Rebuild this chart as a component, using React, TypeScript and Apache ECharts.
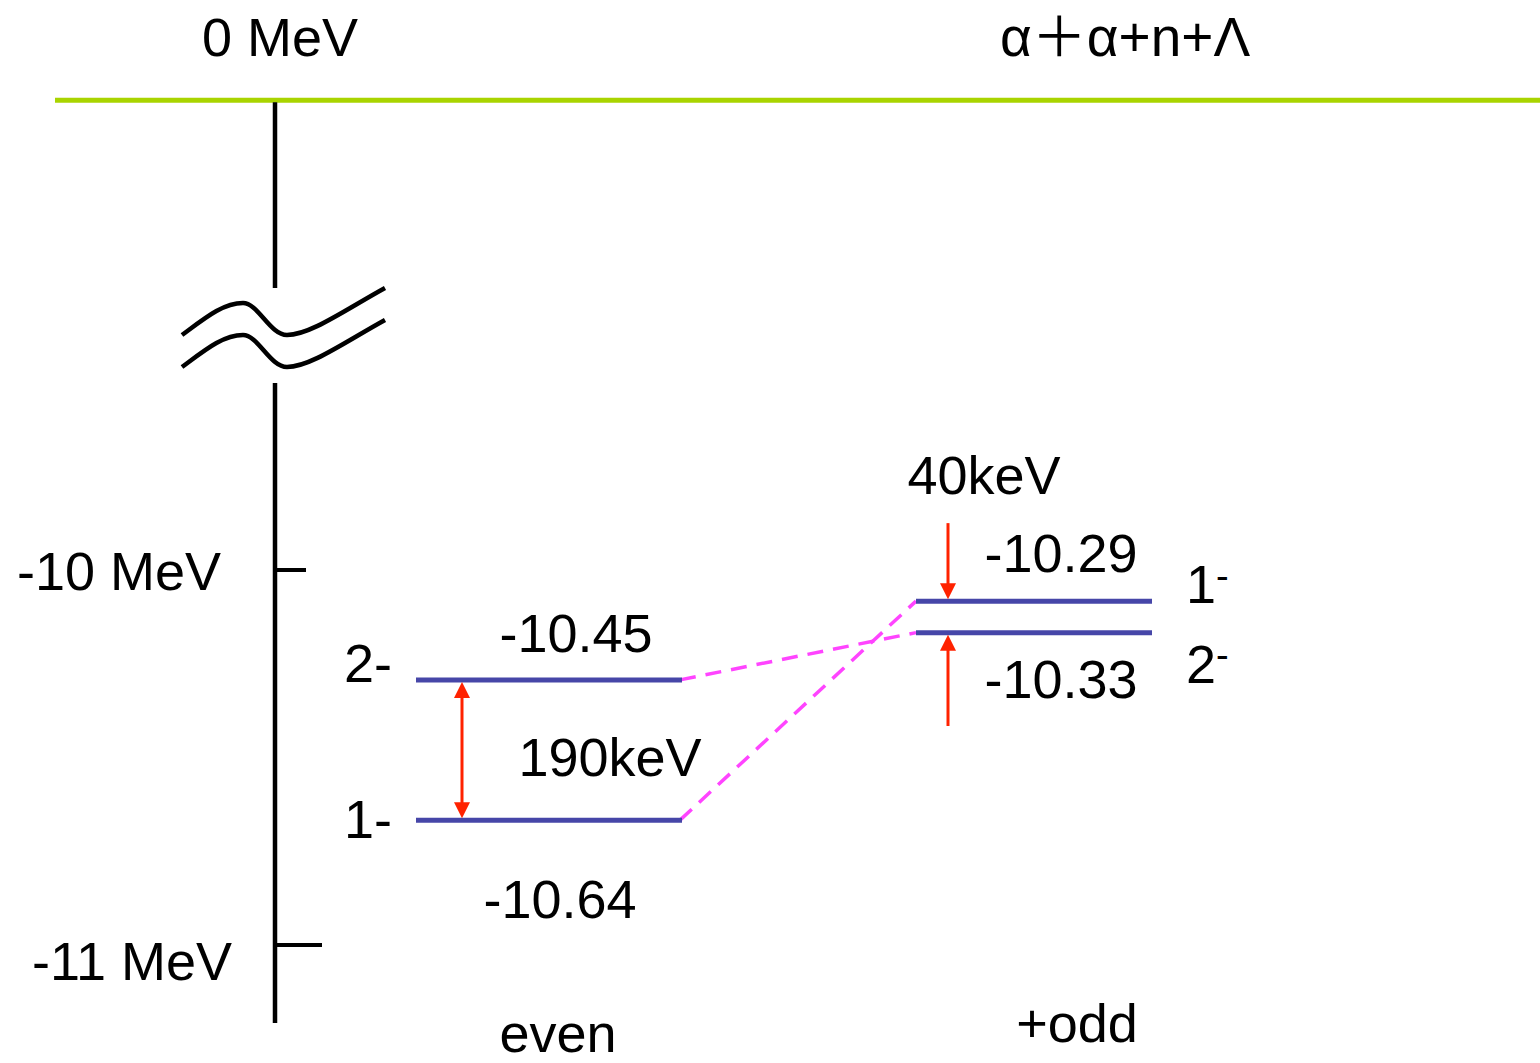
import React, { useEffect, useRef } from "react";
import * as echarts from "echarts";

// ---------------- data ----------------
const thresholdLabel = "0 MeV";
const channelLabel = "α＋α+n+Λ";
const axisTickValues = [-10, -11];
const axisTickLabels = ["-10 MeV", "-11 MeV"];
const evenSpins = ["2-", "1-"];
const evenEnergies = [-10.45, -10.64];
const evenDrawnY = [-10.293, -10.667]; // schematic drawn positions on the axis
const oddSpins = ["1", "2"];
const oddParity = ["-", "-"];
const oddEnergies = [-10.29, -10.33];
const oddDrawnY = [-10.083, -10.167];
const splittingKeV = [190, 40];
const columnLabels = ["even", "+odd"];
const evenToOdd = [1, 0]; // 2- -> 2-, 1- -> 1-
const thresholdDrawnY = -8.747;
const breakDrawnY = -9.416;
const axisEndDrawnY = -11.208;
const oddArrowTailY = [-9.875, -10.416];

// ---------------- layout / style ----------------
const W = 1540;
const H = 1063;
const PX_PER_UNIT = 375;
const Y_MAX = -8.48;
const Y_MIN = Y_MAX - H / PX_PER_UNIT;
const FONT = '"Liberation Sans", Arial, Helvetica, "Noto Sans CJK JP", sans-serif';
const FS = 54;
const AXIS_X = 275;
const LINE_X0 = 55;
const EVEN_X = [416, 682];
const ODD_X = [916, 1152];
const EVEN_ARROW_X = 462;
const ODD_ARROW_X = 948;
const TICK_LEN = [31, 47];
const GREEN = "#A9D400";
const BLUE = "#4646A8";
const MAGENTA = "#FF44FF";
const RED = "#FF2200";
const BLACK = "#000000";

type T = { x: number; y: number; dx: number; dy: number; text: string; align: string; size?: number };

const texts: T[] = [
  { x: AXIS_X, y: thresholdDrawnY, dx: 5, dy: -63, text: thresholdLabel, align: "center" },
  { x: 1000, y: thresholdDrawnY, dx: 0, dy: -63, text: channelLabel, align: "left", size: 55 },
  ...axisTickValues.map((v, i) => ({
    x: AXIS_X, y: v, dx: [-54, -43][i], dy: [1, 16][i], text: axisTickLabels[i], align: "right",
  })),
  ...evenSpins.map((s, i) => ({
    x: EVEN_X[0], y: evenDrawnY[i], dx: -24, dy: [-17, -1][i], text: s, align: "right",
  })),
  ...evenEnergies.map((e, i) => ({
    x: EVEN_X[0], y: evenDrawnY[i], dx: [160, 144][i], dy: [-47, 79][i], text: e.toFixed(2), align: "center",
  })),
  { x: EVEN_X[0], y: evenDrawnY[1], dx: 194, dy: -63, text: `${splittingKeV[0]}keV`, align: "center" },
  { x: ODD_ARROW_X, y: oddArrowTailY[0], dx: 36, dy: -48, text: `${splittingKeV[1]}keV`, align: "center" },
  ...oddEnergies.map((e, i) => ({
    x: ODD_X[0], y: oddDrawnY[i], dx: 145, dy: [-48, 46][i], text: e.toFixed(2), align: "center",
  })),
  ...oddSpins.map((s, i) => ({
    x: ODD_X[1], y: oddDrawnY[i], dx: 34, dy: [-17, 31][i], text: s, align: "left",
  })),
  ...oddParity.map((s, i) => ({
    x: ODD_X[1], y: oddDrawnY[i], dx: 64, dy: [-25, 22][i], text: s, align: "left", size: 38,
  })),
  { x: (EVEN_X[0] + EVEN_X[1]) / 2, y: axisEndDrawnY, dx: 9, dy: 10, text: columnLabels[0], align: "center" },
  { x: (ODD_X[0] + ODD_X[1]) / 2, y: axisEndDrawnY, dx: 43, dy: 0, text: columnLabels[1], align: "center" },
];

function buildOption() {
  const levelData = [
    ...evenDrawnY.map((y) => [EVEN_X[0], y, EVEN_X[1]]),
    ...oddDrawnY.map((y) => [ODD_X[0], y, ODD_X[1]]),
  ];
  const connectorData = evenDrawnY.map((y, i) => [EVEN_X[1] - 2, y, ODD_X[0], oddDrawnY[evenToOdd[i]]]);
  const arrowData = [
    [EVEN_ARROW_X, evenDrawnY[1], evenDrawnY[0], 1],
    [ODD_ARROW_X, oddArrowTailY[0], oddDrawnY[0], 0],
    [ODD_ARROW_X, oddArrowTailY[1], oddDrawnY[1], 0],
  ];

  const base = { type: "custom", coordinateSystem: "cartesian2d", silent: true, clip: false };

  const wave = (cx: number, cy: number) => {
    const segs = [
      [-93, 0, -70, -17, -52, -32, -32, -32],
      [-32, -32, -17, -32, -5, 0, 12, 0],
      [12, 0, 35, 0, 70, -25, 110, -47],
    ];
    return segs.map((s) => ({
      type: "bezierCurve",
      shape: {
        x1: cx + s[0], y1: cy + s[1],
        cpx1: cx + s[2], cpy1: cy + s[3],
        cpx2: cx + s[4], cpy2: cy + s[5],
        x2: cx + s[6], y2: cy + s[7],
      },
      style: { stroke: BLACK, lineWidth: 4.5, fill: null },
    }));
  };

  return {
    animation: false,
    grid: { left: 0, right: 0, top: 0, bottom: 0 },
    xAxis: { type: "value", min: 0, max: W, show: false },
    yAxis: { type: "value", min: Y_MIN, max: Y_MAX, show: false },
    series: [
      {
        ...base,
        name: "threshold",
        data: [[LINE_X0, thresholdDrawnY, W]],
        renderItem: (_p: any, api: any) => {
          const a = api.coord([api.value(0), api.value(1)]);
          const b = api.coord([api.value(2), api.value(1)]);
          return {
            type: "line",
            shape: { x1: a[0], y1: a[1], x2: b[0], y2: b[1] },
            style: { stroke: GREEN, lineWidth: 5 },
          };
        },
      },
      {
        ...base,
        name: "energyAxis",
        data: [[AXIS_X, breakDrawnY]],
        renderItem: (_p: any, api: any) => {
          const top = api.coord([AXIS_X, thresholdDrawnY]);
          const brk = api.coord([AXIS_X, breakDrawnY]);
          const end = api.coord([AXIS_X, axisEndDrawnY]);
          const children: any[] = [
            {
              type: "line",
              shape: { x1: top[0], y1: top[1] + 2, x2: brk[0], y2: brk[1] - 63 },
              style: { stroke: BLACK, lineWidth: 4.5 },
            },
            {
              type: "line",
              shape: { x1: brk[0], y1: brk[1] + 32, x2: end[0], y2: end[1] },
              style: { stroke: BLACK, lineWidth: 4.5 },
            },
            ...axisTickValues.map((v, i) => {
              const p = api.coord([AXIS_X, v]);
              return {
                type: "line",
                shape: { x1: p[0], y1: p[1], x2: p[0] + TICK_LEN[i], y2: p[1] },
                style: { stroke: BLACK, lineWidth: 4 },
              };
            }),
            ...wave(brk[0], brk[1] - 16),
            ...wave(brk[0], brk[1] + 16),
          ];
          return { type: "group", children };
        },
      },
      {
        ...base,
        name: "connectors",
        data: connectorData,
        renderItem: (_p: any, api: any) => {
          const a = api.coord([api.value(0), api.value(1)]);
          const b = api.coord([api.value(2), api.value(3)]);
          return {
            type: "line",
            shape: { x1: a[0], y1: a[1], x2: b[0], y2: b[1] },
            style: { stroke: MAGENTA, lineWidth: 3.5, lineDash: [16, 10] },
          };
        },
      },
      {
        ...base,
        name: "levels",
        data: levelData,
        renderItem: (_p: any, api: any) => {
          const a = api.coord([api.value(0), api.value(1)]);
          const b = api.coord([api.value(2), api.value(1)]);
          return {
            type: "line",
            shape: { x1: a[0], y1: a[1], x2: b[0], y2: b[1] },
            style: { stroke: BLUE, lineWidth: 5 },
          };
        },
      },
      {
        ...base,
        name: "arrows",
        data: arrowData,
        renderItem: (_p: any, api: any) => {
          const x = api.value(0);
          const a = api.coord([x, api.value(1)]);
          const b = api.coord([x, api.value(2)]);
          const dbl = api.value(3) === 1;
          const dir = b[1] > a[1] ? 1 : -1;
          const L = 16;
          const hw = 8;
          const tipB = b[1] - dir * 2;
          const tipA = a[1] + dir * 2;
          const children: any[] = [
            {
              type: "line",
              shape: {
                x1: a[0], y1: dbl ? tipA + dir * (L - 2) : a[1],
                x2: b[0], y2: tipB - dir * (L - 2),
              },
              style: { stroke: RED, lineWidth: 3 },
            },
            {
              type: "polygon",
              shape: { points: [[b[0], tipB], [b[0] - hw, tipB - dir * L], [b[0] + hw, tipB - dir * L]] },
              style: { fill: RED },
            },
          ];
          if (dbl) {
            children.push({
              type: "polygon",
              shape: { points: [[a[0], tipA], [a[0] - hw, tipA + dir * L], [a[0] + hw, tipA + dir * L]] },
              style: { fill: RED },
            });
          }
          return { type: "group", children };
        },
      },
      {
        ...base,
        name: "texts",
        data: texts.map((t) => [t.x, t.y]),
        renderItem: (p: any, api: any) => {
          const t = texts[p.dataIndex];
          const c = api.coord([t.x, t.y]);
          return {
            type: "text",
            x: c[0] + t.dx,
            y: c[1] + t.dy,
            style: {
              text: t.text,
              fontSize: t.size || FS,
              fontFamily: FONT,
              fill: BLACK,
              align: t.align,
              verticalAlign: "middle",
            },
          };
        },
      },
    ],
  };
}

export default function App() {
  const ref = useRef<HTMLDivElement>(null);
  useEffect(() => {
    document.body.style.margin = "0";
    if (!ref.current) return;
    const chart = echarts.init(ref.current, undefined, { renderer: "svg", width: W, height: H });
    chart.setOption(buildOption() as any);
    return () => chart.dispose();
  }, []);
  return <div ref={ref} style={{ width: W, height: H, background: "#ffffff" }} />;
}
